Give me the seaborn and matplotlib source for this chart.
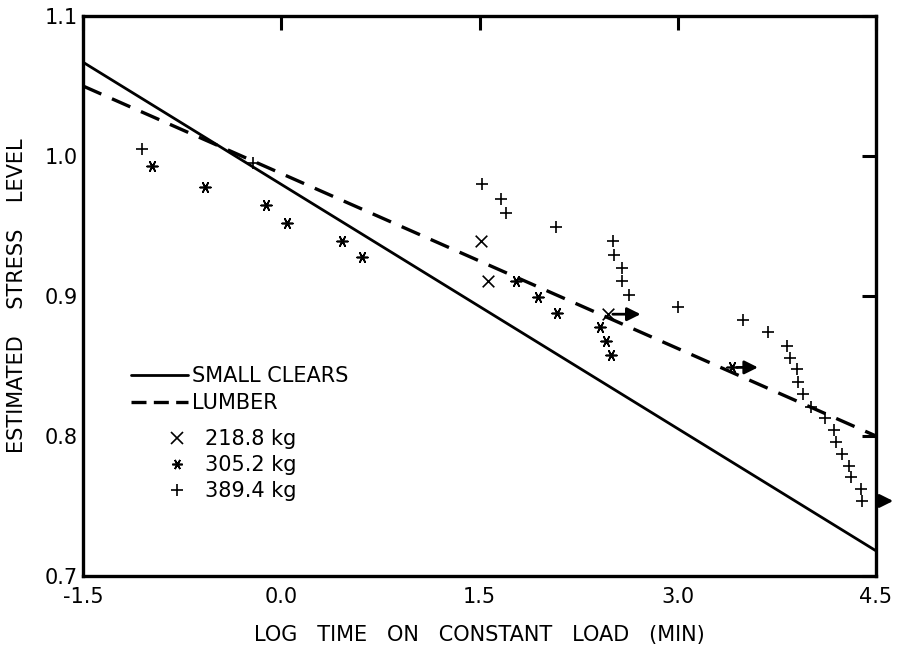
import matplotlib
matplotlib.use("Agg")
import matplotlib.pyplot as plt
import seaborn as sns
import pandas as pd
from matplotlib.lines import Line2D

# ---- data ----
line_x = [-1.5, 4.5]
small_clears_y = [1.067, 0.718]
lumber_y = [1.050, 0.800]

x218 = [1.508, 1.566, 2.469]
y218 = [0.939, 0.911, 0.887]

x305 = [-0.98, -0.577, -0.118, 0.041, 0.457, 0.608, 1.775, 1.944, 2.083,
        2.41, 2.454, 2.494, 3.407]
y305 = [0.993, 0.978, 0.965, 0.952, 0.9395, 0.9276, 0.911, 0.899, 0.888,
        0.878, 0.868, 0.858, 0.849]

x389 = [-1.05, -0.212, 1.516, 1.66, 1.697, 2.076, 2.507, 2.517, 2.575, 2.58,
        2.633, 3.003, 3.49, 3.684, 3.828, 3.848, 3.906, 3.911, 3.944, 4.005,
        4.115, 4.186, 4.194, 4.239, 4.294, 4.309, 4.385, 4.395]
y389 = [1.005, 0.995, 0.980, 0.969, 0.959, 0.949, 0.939, 0.929, 0.920, 0.911,
        0.901, 0.892, 0.883, 0.874, 0.8645, 0.856, 0.8476, 0.8388, 0.8298,
        0.821, 0.8126, 0.8043, 0.7959, 0.7871, 0.7788, 0.7709, 0.7621, 0.7536]

# runout (censored) specimens shown with arrows
run_x = [2.469, 3.407, 4.5]
run_y = [0.887, 0.849, 0.7536]
run_len = [0.25, 0.20, 0.13]

x_ticks = [-1.5, 0.0, 1.5, 3.0, 4.5]
x_ticklabels = ["-1.5", "0.0", "1.5", "3.0", "4.5"]
y_ticks = [0.7, 0.8, 0.9, 1.0, 1.1]
y_ticklabels = ["0.7", "0.8", "0.9", "1.0", "1.1"]

labels_lines = ["SMALL CLEARS", "LUMBER"]
labels_loads = ["218.8 kg", "305.2 kg", "389.4 kg"]

# ---- style ----
sns.set_style("white")
plt.rcParams["font.family"] = ["DejaVu Sans"]
plt.rcParams["font.size"] = 15
plt.rcParams["text.color"] = "black"
plt.rcParams["axes.labelcolor"] = "black"
plt.rcParams["xtick.color"] = "black"
plt.rcParams["ytick.color"] = "black"
FS = 15

fig = plt.figure(figsize=(8.97, 6.55), dpi=100)
ax = fig.add_axes([83 / 897, 1 - 576 / 655, (876 - 83) / 897, 560 / 655])

lines_df = pd.DataFrame({
    "x": line_x * 2,
    "y": small_clears_y + lumber_y,
    "series": [labels_lines[0]] * 2 + [labels_lines[1]] * 2,
})
sns.lineplot(data=lines_df[lines_df.series == labels_lines[0]], x="x", y="y",
             color="black", lw=2.0, ax=ax, legend=False)
sns.lineplot(data=lines_df[lines_df.series == labels_lines[1]], x="x", y="y",
             color="black", lw=2.4, ax=ax, legend=False,
             dashes=False, linestyle=(0, (6, 3.5)))

pts = pd.DataFrame({
    "x": x218 + x305 + x389,
    "y": y218 + y305 + y389,
    "load": [labels_loads[0]] * len(x218) + [labels_loads[1]] * len(x305)
            + [labels_loads[2]] * len(x389),
})
marker_map = {labels_loads[0]: "x", labels_loads[1]: (6, 2, 90),
              labels_loads[2]: "+"}
size_map = {labels_loads[0]: 70, labels_loads[1]: 60, labels_loads[2]: 80}
for lab in labels_loads:
    sub = pts[pts.load == lab]
    sns.scatterplot(data=sub, x="x", y="y", marker=marker_map[lab],
                    s=size_map[lab], color="black", linewidth=1.2, ax=ax,
                    legend=False, zorder=3)

for rx, ry, rl in zip(run_x, run_y, run_len):
    ax.annotate("", xy=(rx + rl, ry), xytext=(rx + 0.04, ry),
                arrowprops=dict(arrowstyle="-|>", lw=2.0, color="black",
                                mutation_scale=20, shrinkA=0, shrinkB=0),
                annotation_clip=False, zorder=4)

ax.set_xlim(-1.5, 4.5)
ax.set_ylim(0.7, 1.1)
ax.set_xticks(x_ticks)
ax.set_xticklabels(x_ticklabels)
ax.set_yticks(y_ticks)
ax.set_yticklabels(y_ticklabels)
ax.tick_params(direction="in", length=10, width=2.2, top=True, right=True,
               labelsize=FS, colors="black", labelcolor="black")
ax.tick_params(axis="x", pad=8)
ax.tick_params(axis="y", pad=4)
for sp in ax.spines.values():
    sp.set_visible(True)
    sp.set_linewidth(2.4)
    sp.set_color("black")

ax.set_xlabel("LOG   TIME   ON   CONSTANT   LOAD   (MIN)", fontsize=FS,
              color="black")
ax.set_ylabel("ESTIMATED    STRESS    LEVEL", fontsize=FS, color="black")
ax.xaxis.set_label_coords(0.5, -0.087)
ax.yaxis.set_label_coords(-0.07, 0.5)

# legends
h_lines = [Line2D([], [], color="black", lw=2.0),
           Line2D([], [], color="black", lw=2.4, linestyle=(0, (4.5, 2.2)))]
leg1 = ax.legend(h_lines, labels_lines, loc="center left",
                 bbox_to_anchor=(0.061, 0.333), frameon=False,
                 handlelength=2.7, handletextpad=0.2, borderpad=0,
                 borderaxespad=0, labelspacing=0.35, fontsize=FS,
                 labelcolor="black")
ax.add_artist(leg1)
h_pts = [Line2D([], [], color="black", lw=0, marker="x", markersize=8,
                markeredgewidth=1.2),
         Line2D([], [], color="black", lw=0, marker=(6, 2, 90), markersize=7.5,
                markeredgewidth=1.2),
         Line2D([], [], color="black", lw=0, marker="+", markersize=9,
                markeredgewidth=1.2)]
leg2 = ax.legend(h_pts, labels_loads, loc="center left",
                 bbox_to_anchor=(0.106, 0.198), frameon=False,
                 handlelength=1.0, handletextpad=0.8, borderpad=0,
                 borderaxespad=0, labelspacing=0.3, fontsize=FS,
                 labelcolor="black")

fig.savefig("out.png", dpi=100)
